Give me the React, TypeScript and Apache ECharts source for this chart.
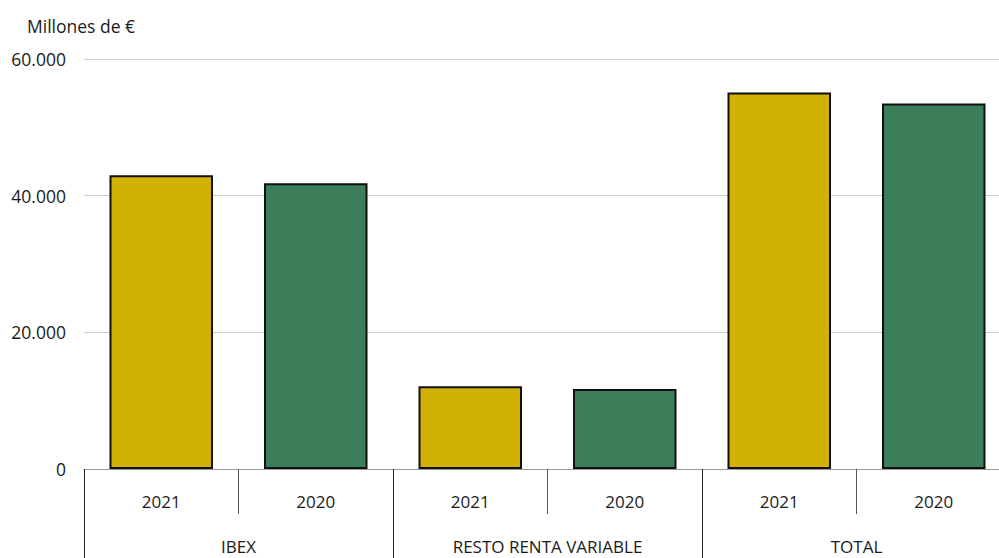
import React, { useEffect, useRef } from "react";
import * as echarts from "echarts";

const groups: string[] = ["IBEX", "RESTO RENTA VARIABLE", "TOTAL"];
const years: string[] = ["2021", "2020", "2021", "2020", "2021", "2020"];
const values: number[] = [43000, 41800, 12100, 11700, 55100, 53500];
const yTicks: number[] = [0, 20000, 40000, 60000];
const unitLabel = "Millones de €";

const COLOR_2021 = "#D2B105";
const COLOR_2020 = "#3D7E5A";
const FONT = "'Open Sans', 'Noto Sans', sans-serif";

function fmt(v: number): string {
  return String(v).replace(/\B(?=(\d{3})+(?!\d))/g, ".");
}

export default function App() {
  const ref = useRef<HTMLDivElement>(null);
  useEffect(() => {
    if (!ref.current) return;
    const chart = echarts.init(ref.current, null, { renderer: "svg" });
    chart.setOption({
      animation: false,
      backgroundColor: "#ffffff",
      textStyle: { fontFamily: FONT },
      title: {
        text: unitLabel,
        left: 22,
        top: 12,
        textStyle: { fontFamily: FONT, fontSize: 17.5, fontWeight: "normal", color: "#1a1a1a" },
      },
      grid: { left: 84, right: 19, top: 59, bottom: 89, containLabel: false },
      xAxis: [
        {
          type: "category",
          data: years,
          position: "bottom",
          axisLine: { show: true, lineStyle: { color: "#999999", width: 1 } },
          axisTick: { show: true, interval: 0, length: 45, lineStyle: { color: "#555555", width: 1 } },
          axisLabel: { interval: 0, margin: 24, fontSize: 17, color: "#1a1a1a", fontFamily: FONT },
        },
        {
          type: "category",
          data: groups,
          position: "bottom",
          axisLine: { show: false },
          axisTick: { show: true, interval: 0, length: 100, lineStyle: { color: "#222222", width: 1 } },
          axisLabel: { interval: 0, margin: 69, fontSize: 17, color: "#1a1a1a", fontFamily: FONT },
        },
      ],
      yAxis: {
        type: "value",
        min: yTicks[0],
        max: yTicks[yTicks.length - 1],
        interval: yTicks[1] - yTicks[0],
        axisLine: { show: false },
        axisTick: { show: false },
        splitLine: { show: true, lineStyle: { color: "#cccccc", width: 1 } },
        axisLabel: {
          margin: 18,
          fontSize: 17.5,
          color: "#1a1a1a",
          fontFamily: FONT,
          formatter: (v: number) => fmt(v),
        },
      },
      series: [
        {
          type: "bar",
          xAxisIndex: 0,
          barWidth: "67%",
          data: values.map((v, i) => ({
            value: v,
            itemStyle: {
              color: years[i] === "2021" ? COLOR_2021 : COLOR_2020,
              borderColor: "#111111",
              borderWidth: 2,
            },
          })),
        },
      ],
    });
    return () => chart.dispose();
  }, []);
  return (
    <div
      ref={ref}
      style={{ position: "fixed", left: 0, top: 0, width: 1030, height: 558, background: "#fff" }}
    />
  );
}
